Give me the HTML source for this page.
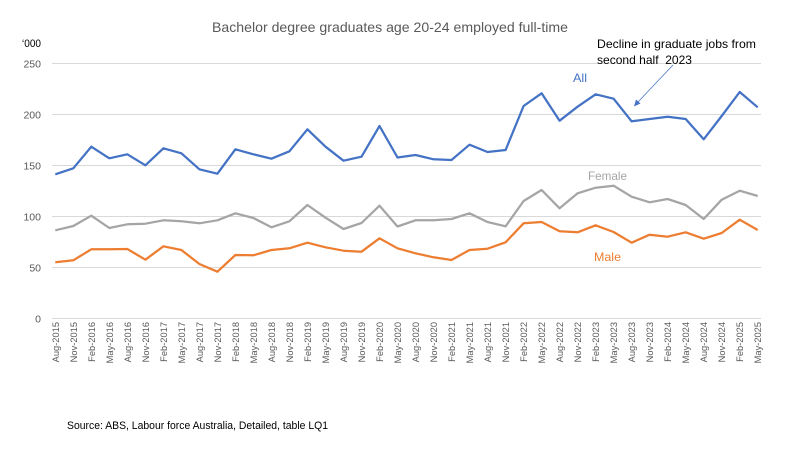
<!DOCTYPE html>
<html><head><meta charset="utf-8"><style>
html,body{margin:0;padding:0;background:#fff;}
svg{display:block;font-family:"Liberation Sans",Arial,sans-serif;}
</style></head><body>
<svg width="800" height="450" viewBox="0 0 800 450" xmlns="http://www.w3.org/2000/svg">
<rect width="800" height="450" fill="#fff"/>
<text x="212" y="32" font-size="14" fill="#595959" textLength="356" lengthAdjust="spacingAndGlyphs">Bachelor degree graduates age 20-24 employed full-time</text>
<text x="22" y="47" font-size="11" fill="#000" textLength="19" lengthAdjust="spacingAndGlyphs">‘000</text>
<g stroke="#D9D9D9" stroke-width="1">
<line x1="52" y1="63.5" x2="761" y2="63.5"/>
<line x1="52" y1="114.5" x2="761" y2="114.5"/>
<line x1="52" y1="165.5" x2="761" y2="165.5"/>
<line x1="52" y1="216.5" x2="761" y2="216.5"/>
<line x1="52" y1="267.5" x2="761" y2="267.5"/>
<line x1="52" y1="318.5" x2="761" y2="318.5"/>
</g>
<g font-size="10.5" fill="#595959" text-anchor="end">
<text x="41" y="67.5">250</text>
<text x="41" y="118.5">200</text>
<text x="41" y="169.5">150</text>
<text x="41" y="220.5">100</text>
<text x="41" y="271.5">50</text>
<text x="41" y="322.5">0</text>
</g>
<polyline fill="none" stroke="#4472C4" stroke-width="2.25" stroke-linejoin="round" points="55.3,174.3 73.3,168.3 91.3,146.7 109.3,158.3 127.3,154.3 145.4,165.3 163.4,148.3 181.4,153.3 199.4,169.3 217.4,173.7 235.4,149.3 253.4,154.3 271.4,158.7 289.4,151.3 307.4,129.3 325.5,146.7 343.5,160.7 361.5,156.7 379.5,126 397.5,157.5 415.5,155 433.5,159.3 451.5,160 469.5,144.7 487.5,152 505.6,150 523.6,106 541.6,93.3 559.6,120.7 577.6,106.7 595.6,94.3 613.6,98.7 631.6,121.3 649.6,119 667.6,116.7 685.7,119 703.7,139.3 721.7,116 739.7,92 757.7,107.3"/>
<polyline fill="none" stroke="#A5A5A5" stroke-width="2.25" stroke-linejoin="round" points="55.3,230.3 73.3,226 91.3,215.7 109.3,228 127.3,224.3 145.4,223.7 163.4,220.3 181.4,221.3 199.4,223.3 217.4,220.3 235.4,213.3 253.4,218 271.4,227.3 289.4,221.3 307.4,205 325.5,217.7 343.5,229 361.5,223 379.5,205.7 397.5,226.5 415.5,220.3 433.5,220.3 451.5,219 469.5,213.3 487.5,222 505.6,226.3 523.6,201 541.6,190 559.6,208.3 577.6,193.3 595.6,187.7 613.6,185.7 631.6,196.7 649.6,202.3 667.6,199 685.7,205 703.7,219 721.7,199.7 739.7,190.7 757.7,196"/>
<polyline fill="none" stroke="#ED7D31" stroke-width="2.25" stroke-linejoin="round" points="55.3,262.3 73.3,260.3 91.3,249.3 109.3,249.3 127.3,249 145.4,259.7 163.4,246.3 181.4,250 199.4,264 217.4,271.7 235.4,255 253.4,255.3 271.4,250 289.4,248.3 307.4,242.7 325.5,247.3 343.5,250.7 361.5,251.7 379.5,238.3 397.5,248.3 415.5,253.3 433.5,257.3 451.5,260 469.5,250 487.5,248.7 505.6,242.3 523.6,223.3 541.6,222 559.6,231.3 577.6,232.3 595.6,225.3 613.6,232 631.6,242.7 649.6,234.7 667.6,236.7 685.7,232.3 703.7,238.7 721.7,233 739.7,219.7 757.7,230"/>
<g font-size="9.3" fill="#595959" text-anchor="end">
<text transform="translate(58.8,322) rotate(-90)">Aug-2015</text>
<text transform="translate(76.8,322) rotate(-90)">Nov-2015</text>
<text transform="translate(94.8,322) rotate(-90)">Feb-2016</text>
<text transform="translate(112.8,322) rotate(-90)">May-2016</text>
<text transform="translate(130.8,322) rotate(-90)">Aug-2016</text>
<text transform="translate(148.9,322) rotate(-90)">Nov-2016</text>
<text transform="translate(166.9,322) rotate(-90)">Feb-2017</text>
<text transform="translate(184.9,322) rotate(-90)">May-2017</text>
<text transform="translate(202.9,322) rotate(-90)">Aug-2017</text>
<text transform="translate(220.9,322) rotate(-90)">Nov-2017</text>
<text transform="translate(238.9,322) rotate(-90)">Feb-2018</text>
<text transform="translate(256.9,322) rotate(-90)">May-2018</text>
<text transform="translate(274.9,322) rotate(-90)">Aug-2018</text>
<text transform="translate(292.9,322) rotate(-90)">Nov-2018</text>
<text transform="translate(310.9,322) rotate(-90)">Feb-2019</text>
<text transform="translate(329,322) rotate(-90)">May-2019</text>
<text transform="translate(347,322) rotate(-90)">Aug-2019</text>
<text transform="translate(365,322) rotate(-90)">Nov-2019</text>
<text transform="translate(383,322) rotate(-90)">Feb-2020</text>
<text transform="translate(401,322) rotate(-90)">May-2020</text>
<text transform="translate(419,322) rotate(-90)">Aug-2020</text>
<text transform="translate(437,322) rotate(-90)">Nov-2020</text>
<text transform="translate(455,322) rotate(-90)">Feb-2021</text>
<text transform="translate(473,322) rotate(-90)">May-2021</text>
<text transform="translate(491,322) rotate(-90)">Aug-2021</text>
<text transform="translate(509.1,322) rotate(-90)">Nov-2021</text>
<text transform="translate(527.1,322) rotate(-90)">Feb-2022</text>
<text transform="translate(545.1,322) rotate(-90)">May-2022</text>
<text transform="translate(563.1,322) rotate(-90)">Aug-2022</text>
<text transform="translate(581.1,322) rotate(-90)">Nov-2022</text>
<text transform="translate(599.1,322) rotate(-90)">Feb-2023</text>
<text transform="translate(617.1,322) rotate(-90)">May-2023</text>
<text transform="translate(635.1,322) rotate(-90)">Aug-2023</text>
<text transform="translate(653.1,322) rotate(-90)">Nov-2023</text>
<text transform="translate(671.1,322) rotate(-90)">Feb-2024</text>
<text transform="translate(689.2,322) rotate(-90)">May-2024</text>
<text transform="translate(707.2,322) rotate(-90)">Aug-2024</text>
<text transform="translate(725.2,322) rotate(-90)">Nov-2024</text>
<text transform="translate(743.2,322) rotate(-90)">Feb-2025</text>
<text transform="translate(761.2,322) rotate(-90)">May-2025</text>
</g>
<text x="573" y="82" font-size="12" fill="#4472C4" textLength="14" lengthAdjust="spacingAndGlyphs">All</text>
<text x="588" y="180" font-size="12" fill="#A5A5A5" textLength="39" lengthAdjust="spacingAndGlyphs">Female</text>
<text x="594" y="261" font-size="12" fill="#ED7D31" textLength="27" lengthAdjust="spacingAndGlyphs">Male</text>
<text x="597" y="48" font-size="12" fill="#000" textLength="159" lengthAdjust="spacingAndGlyphs">Decline in graduate jobs from</text>
<text x="597" y="64" font-size="12" fill="#000" textLength="95" lengthAdjust="spacingAndGlyphs">second half&#160; 2023</text>
<line x1="673" y1="65" x2="637" y2="103" stroke="#4472C4" stroke-width="0.75"/>
<polygon points="634,106.5 636,99.5 640.5,103.5" fill="#4472C4"/>
<text x="67" y="429" font-size="11" fill="#000" textLength="261" lengthAdjust="spacingAndGlyphs">Source: ABS, Labour force Australia, Detailed, table LQ1</text>
</svg>
</body></html>
